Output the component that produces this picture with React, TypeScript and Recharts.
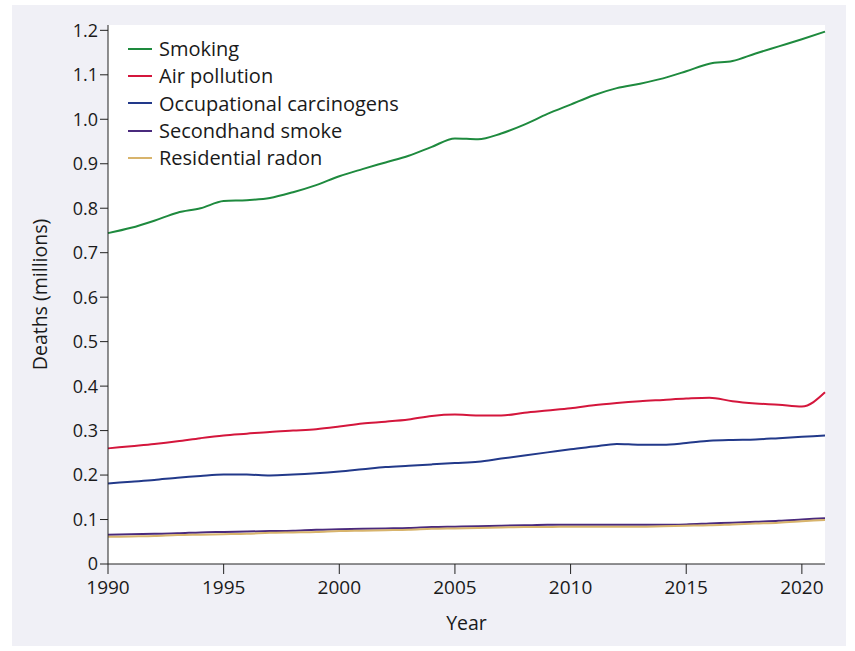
import { CartesianGrid, Line, LineChart, XAxis, YAxis } from "recharts";

const years = [
  1990, 1991, 1992, 1993, 1994, 1995, 1996, 1997, 1998, 1999, 2000, 2001, 2002,
  2003, 2004, 2005, 2006, 2007, 2008, 2009, 2010, 2011, 2012, 2013, 2014, 2015,
  2016, 2017, 2018, 2019, 2020, 2021,
];

const smoking = [
  0.744, 0.756, 0.772, 0.79, 0.8, 0.816, 0.818, 0.823, 0.836, 0.852, 0.872,
  0.888, 0.903, 0.918, 0.938, 0.957, 0.955, 0.968, 0.988, 1.012, 1.033, 1.054,
  1.07, 1.08, 1.092, 1.108, 1.125, 1.131, 1.148, 1.164, 1.18, 1.197,
];

const airPollution = [
  0.26, 0.265, 0.27, 0.276, 0.283, 0.289, 0.293, 0.297, 0.3, 0.303, 0.309,
  0.316, 0.32, 0.325, 0.333, 0.336, 0.334, 0.334, 0.34, 0.345, 0.35, 0.357,
  0.362, 0.366, 0.369, 0.372, 0.374, 0.366, 0.361, 0.358, 0.354, 0.386,
];

const occupational = [
  0.181, 0.185, 0.189, 0.194, 0.198, 0.201, 0.201, 0.199, 0.201, 0.204, 0.208,
  0.213, 0.218, 0.221, 0.224, 0.227, 0.23, 0.237, 0.244, 0.251, 0.258, 0.264,
  0.27, 0.268, 0.268, 0.272, 0.277, 0.279, 0.28, 0.283, 0.286, 0.289,
];

const secondhand = [
  0.066, 0.067, 0.068, 0.069, 0.071, 0.072, 0.073, 0.074, 0.075, 0.077, 0.078,
  0.079, 0.08, 0.081, 0.083, 0.084, 0.085, 0.086, 0.087, 0.088, 0.088, 0.088,
  0.088, 0.088, 0.088, 0.089, 0.091, 0.093, 0.095, 0.097, 0.1, 0.103,
];

const radon = [
  0.061, 0.062, 0.063, 0.065, 0.066, 0.067, 0.068, 0.07, 0.071, 0.072, 0.074,
  0.075, 0.076, 0.077, 0.079, 0.08, 0.081, 0.082, 0.083, 0.083, 0.084, 0.084,
  0.084, 0.084, 0.085, 0.086, 0.087, 0.089, 0.091, 0.093, 0.096, 0.099,
];

const yTicks = [0, 0.1, 0.2, 0.3, 0.4, 0.5, 0.6, 0.7, 0.8, 0.9, 1.0, 1.1, 1.2];
const xTicks = [1990, 1995, 2000, 2005, 2010, 2015, 2020];

const series = [
  { key: "smoking", name: "Smoking", color: "#1e8a3e", values: smoking },
  { key: "air", name: "Air pollution", color: "#d4163c", values: airPollution },
  { key: "occ", name: "Occupational carcinogens", color: "#22398a", values: occupational },
  { key: "second", name: "Secondhand smoke", color: "#4a2a7d", values: secondhand },
  { key: "radon", name: "Residential radon", color: "#d8b46c", values: radon },
];

const data = years.map((year, i) => {
  const row: Record<string, number> = { year };
  for (const s of series) row[s.key] = s.values[i];
  return row;
});

const FONT = "'Open Sans', sans-serif";

export default function App() {
  return (
    <div style={{ position: "absolute", left: 0, top: 0, width: 855, height: 651, background: "#fff" }}>
      <style>{"body{margin:0}"}</style>
      <div
        style={{
          position: "absolute",
          left: 12,
          top: 5,
          width: 834,
          height: 641,
          background: "#f0f0f6",
        }}
      />
      <div style={{ position: "absolute", left: 0, top: 0 }}>
        <LineChart
          width={855}
          height={651}
          data={data}
          margin={{ top: 25, right: 30, bottom: 17, left: 48 }}
        >
          <CartesianGrid fill="#ffffff" horizontal={false} vertical={false} stroke="none" />
          <XAxis
            dataKey="year"
            type="number"
            domain={[1990, 2021]}
            ticks={xTicks}
            tickSize={10}
            tickMargin={7}
            height={70}
            stroke="#222"
            tick={{ fill: "#1a1a1a", fontSize: 19, fontFamily: FONT }}
            label={{
              value: "Year",
              position: "insideBottom",
              offset: 4,
              fill: "#1a1a1a",
              fontSize: 19.5,
              fontFamily: FONT,
            }}
          />
          <YAxis
            type="number"
            domain={[0, 1.212]}
            ticks={yTicks}
            width={60}
            tickSize={8}
            tickMargin={2}
            stroke="#222"
            tickFormatter={(v: number) => (v === 0 ? "0" : v.toFixed(1))}
            tick={{ fill: "#1a1a1a", fontSize: 18, fontFamily: FONT }}
            label={{
              value: "Deaths (millions)",
              angle: -90,
              position: "insideLeft",
              offset: -8,
              style: { textAnchor: "middle" },
              fill: "#1a1a1a",
              fontSize: 19.5,
              fontFamily: FONT,
            }}
          />
          {series.map((s) => (
            <Line
              key={s.key}
              dataKey={s.key}
              name={s.name}
              type="monotone"
              stroke={s.color}
              strokeWidth={2}
              dot={false}
              isAnimationActive={false}
            />
          ))}
        </LineChart>
      </div>
      <div
        style={{
          position: "absolute",
          left: 128,
          top: 35,
          fontFamily: FONT,
          fontSize: 20,
          color: "#1a1a1a",
        }}
      >
        {series.map((s) => (
          <div key={s.key} style={{ display: "flex", alignItems: "center", height: 27.3 }}>
            <span style={{ width: 24, height: 2, background: s.color, marginRight: 7 }} />
            <span>{s.name}</span>
          </div>
        ))}
      </div>
    </div>
  );
}
